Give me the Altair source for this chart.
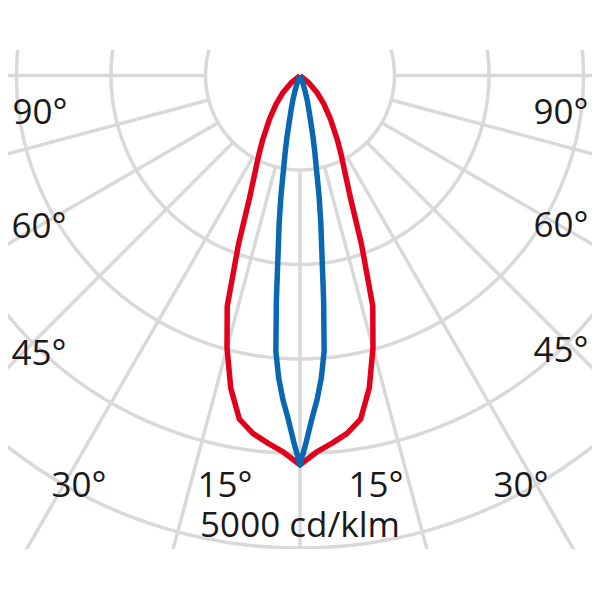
import altair as alt
import pandas as pd
import numpy as np

# ---- data (luminous intensity in cd/klm vs. gamma angle in degrees) ----
red_angles = [0, 2.5, 5, 7.5, 10, 12.5, 15, 17.5, 20, 22.5, 25, 27.5, 30, 35, 40, 45, 50, 55]
red_values = [4120, 3990, 3905, 3820, 3693, 3386, 2984, 2561, 1905, 1386, 1122, 942, 794, 561, 392, 254, 127, 0]

blue_angles = [0, 1, 2, 3, 4, 5, 6, 7, 8, 9, 10, 11, 12, 13, 14, 16, 18, 20, 22, 24]
blue_values = [4120, 3873, 3630, 3439, 3217, 2931, 2392, 1905, 1587, 1291, 995, 815, 656, 508, 413, 286, 180, 106, 42, 0]

ring_values = [1000, 2000, 3000, 4000, 5000]
spoke_angles = [-90, -75, -60, -45, -30, -15, 0, 15, 30, 45, 60, 75, 90]

angle_labels = ["90°", "60°", "45°", "30°", "15°", "15°", "30°", "45°", "60°", "90°"]
unit_label = "5000 cd/klm"

# ---- layout / style ----
K = 0.0945                     # px per cd/klm
W, H = 584, 499
CX, CY = 300, 75.5             # pole position on the page
LEFT, TOP = 8, 50              # plot-area origin on the page
FS = 35
label_pos = [(40, 112), (39, 226), (39, 353), (79, 485), (225, 485),
             (376, 485), (521, 485), (561, 350), (561, 225), (561, 112)]
unit_pos = (300, 525)
GRID = "#d9d9d9"
RED = "#e2001a"
BLUE = "#0a68b2"

xdom = [(LEFT - CX) / K, (LEFT + W - CX) / K]
ydom = [(CY - (TOP + H)) / K, (CY - TOP) / K]
xs = alt.Scale(domain=xdom, nice=False, zero=False)
ys = alt.Scale(domain=ydom, nice=False, zero=False)

# ---- tables ----
def curve_df(angles, values):
    rows = []
    for side in (-1, 1):
        for a, v in zip(angles, values):
            if side == -1 and a == 0:
                continue
            rows.append({"g": side * a, "I": v})
    return pd.DataFrame(rows).sort_values("g")

red_df = curve_df(red_angles, red_values)
blue_df = curve_df(blue_angles, blue_values)

ring_rows = []
for r in ring_values:
    for a in np.arange(0, 361, 1):
        ring_rows.append({"ring": r, "a": float(a), "I": r})
ring_df = pd.DataFrame(ring_rows)

spoke_rows = []
for s in spoke_angles:
    for r in (ring_values[0], 9000):
        spoke_rows.append({"spoke": s, "a": s, "I": r})
spoke_df = pd.DataFrame(spoke_rows)

lab_rows = []
for t, (px, py) in zip(angle_labels, label_pos):
    lab_rows.append({"t": t, "px": px, "py": py + 0.357 * FS})
lab_rows.append({"t": unit_label, "px": unit_pos[0], "py": unit_pos[1] + 0.357 * FS})
lab_df = pd.DataFrame(lab_rows)

X = alt.X("x:Q", scale=xs, axis=None)
Y = alt.Y("y:Q", scale=ys, axis=None)

def polar(ch, angle_field):
    return ch.transform_calculate(
        x=f"datum.I * sin(datum.{angle_field} * PI / 180)",
        y=f"-datum.I * cos(datum.{angle_field} * PI / 180)",
    )

rings = polar(alt.Chart(ring_df), "a").mark_line(
    clip=True, color=GRID, strokeWidth=3.5
).encode(x=X, y=Y, detail="ring:N", order="a:Q")

spokes = polar(alt.Chart(spoke_df), "a").mark_line(
    clip=True, color=GRID, strokeWidth=3.5, strokeCap="butt"
).encode(x=X, y=Y, detail="spoke:N", order="I:Q")

red = polar(alt.Chart(red_df), "g").mark_line(
    clip=True, color=RED, strokeWidth=5.5, strokeJoin="round"
).encode(x=X, y=Y, order="g:Q")

blue = polar(alt.Chart(blue_df), "g").mark_line(
    clip=True, color=BLUE, strokeWidth=5.5, strokeJoin="round"
).encode(x=X, y=Y, order="g:Q")

labels = alt.Chart(lab_df).transform_calculate(
    x=f"(datum.px - {CX}) / {K}",
    y=f"({CY} - datum.py) / {K}",
).mark_text(
    font="Open Sans", fontSize=FS, color="#1a1a1a", align="center", baseline="alphabetic"
).encode(x=X, y=Y, text="t:N")

chart = alt.layer(rings, spokes, red, blue, labels).properties(
    width=W, height=H,
    padding={"left": 0, "top": TOP - 8, "right": 0, "bottom": 0},
).configure_view(stroke=None)

chart.save("out.html", embed_options={"renderer": "svg", "actions": False})
